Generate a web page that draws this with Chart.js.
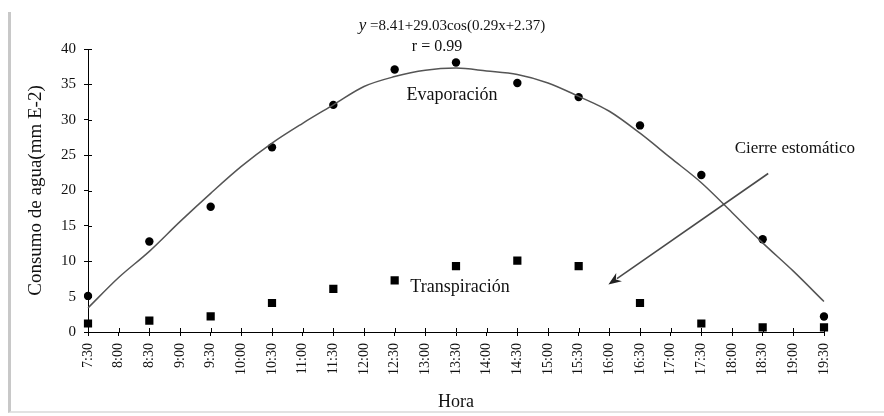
<!DOCTYPE html>
<html>
<head>
<meta charset="utf-8">
<script src="https://cdn.jsdelivr.net/npm/chart.js@4"></script>
<style>
html, body { margin: 0; padding: 0; background: #fff; }
#wrap { position: relative; width: 884px; height: 416px; }
#frame { position: absolute; left: 8px; top: 12px; width: 876px; height: 401px; box-sizing: border-box;
  border-left: 3px solid #c8c8c8; border-bottom: 2px solid #e2e2e2; }
canvas { position: absolute; left: 0; top: 0; }
</style>
</head>
<body>
<div id="wrap"><div id="frame"></div><canvas id="chart" width="884" height="416"></canvas></div>
<script>
// x axis tick labels (half hours)
var halfHours = ["7:30", "8:00", "8:30", "9:00", "9:30", "10:00", "10:30", "11:00", "11:30", "12:00",
  "12:30", "13:00", "13:30", "14:00", "14:30", "15:00", "15:30", "16:00", "16:30", "17:00",
  "17:30", "18:00", "18:30", "19:00", "19:30"];
// hours with measurements
var obsHours = ["7:30", "8:30", "9:30", "10:30", "11:30", "12:30", "13:30", "14:30", "15:30", "16:30", "17:30", "18:30", "19:30"];
var evaporacion = [5.1, 12.8, 17.7, 26.1, 32.1, 37.1, 38.1, 35.2, 33.2, 29.2, 22.2, 13.1, 2.2];
var transpiracion = [1.2, 1.6, 2.2, 4.1, 6.1, 7.3, 9.3, 10.1, 9.3, 4.1, 1.2, 0.65, 0.65];
// fitted curve at each half hour
var ajuste = [3.4, 7.7, 11.4, 15.6, 19.6, 23.4, 26.7, 29.5, 32.1, 34.7, 36.1, 37.0, 37.3, 36.9, 36.4,
  35.2, 33.3, 31.2, 28.1, 24.6, 21.1, 16.9, 12.6, 8.6, 4.3];
var yTicks = [0, 5, 10, 15, 20, 25, 30, 35, 40];

// text notes: [text, x (label index), y (value), font size]
var notes = [
  ["r = 0.99", 11.38, 40.3, 16],
  ["Evaporación", 11.87, 33.4, 18],
  ["Transpiración", 12.13, 6.3, 18],
  ["Cierre estomático", 23.05, 25.9, 17]
];
var eqText = ["y", " =8.41+29.03cos(0.29x+2.37)"];
var eqPos = [11.87, 43.3];
// arrow from -> to (label index, value)
var arrowFrom = [22.18, 22.4];
var arrowTo = [16.97, 6.7];

var serif = "'Liberation Serif', 'Times New Roman', serif";
var ink = "#111";

var notesPlugin = {
  id: "notes",
  afterDatasetsDraw: function (chart) {
    var ctx = chart.ctx, xs = chart.scales.x, ys = chart.scales.y;
    ctx.save();
    // inner half of the cross ticks
    ctx.strokeStyle = "#000";
    ctx.lineWidth = 1;
    ctx.beginPath();
    yTicks.forEach(function (v) {
      var py = Math.round(ys.getPixelForValue(v)) + 0.5;
      ctx.moveTo(xs.left, py); ctx.lineTo(xs.left + 4, py);
    });
    halfHours.forEach(function (h, i) {
      var px = Math.round(xs.getPixelForValue(i)) + 0.5;
      ctx.moveTo(px, ys.bottom); ctx.lineTo(px, ys.bottom - 4);
    });
    ctx.stroke();

    ctx.fillStyle = ink;
    ctx.textBaseline = "middle";
    ctx.textAlign = "center";
    notes.forEach(function (n) {
      ctx.font = n[3] + "px " + serif;
      ctx.fillText(n[0], xs.getPixelForValue(n[1]), ys.getPixelForValue(n[2]));
    });
    // equation with italic y
    ctx.textAlign = "left";
    var f1 = "italic 17px " + serif, f2 = "15px " + serif;
    ctx.font = f1; var w1 = ctx.measureText(eqText[0]).width;
    ctx.font = f2; var w2 = ctx.measureText(eqText[1]).width;
    var ex = xs.getPixelForValue(eqPos[0]) - (w1 + w2) / 2, ey = ys.getPixelForValue(eqPos[1]);
    ctx.font = f1; ctx.fillText(eqText[0], ex, ey);
    ctx.font = f2; ctx.fillText(eqText[1], ex + w1, ey);

    // arrow
    var x1 = xs.getPixelForValue(arrowFrom[0]), y1 = ys.getPixelForValue(arrowFrom[1]);
    var x2 = xs.getPixelForValue(arrowTo[0]), y2 = ys.getPixelForValue(arrowTo[1]);
    var ang = Math.atan2(y2 - y1, x2 - x1), L = 13, W = 5;
    ctx.strokeStyle = "#4a4a4a";
    ctx.lineWidth = 1.6;
    ctx.beginPath();
    ctx.moveTo(x1, y1);
    ctx.lineTo(x2 - Math.cos(ang) * L * 0.8, y2 - Math.sin(ang) * L * 0.8);
    ctx.stroke();
    ctx.fillStyle = "#222";
    ctx.beginPath();
    ctx.moveTo(x2, y2);
    ctx.lineTo(x2 - Math.cos(ang) * L - Math.sin(ang) * W, y2 - Math.sin(ang) * L + Math.cos(ang) * W);
    ctx.lineTo(x2 - Math.cos(ang) * L * 0.7, y2 - Math.sin(ang) * L * 0.7);
    ctx.lineTo(x2 - Math.cos(ang) * L + Math.sin(ang) * W, y2 - Math.sin(ang) * L - Math.cos(ang) * W);
    ctx.closePath();
    ctx.fill();
    ctx.restore();
  }
};

var ctx = document.getElementById("chart");
var myChart = new Chart(ctx, {
  type: "line",
  data: {
    labels: halfHours,
    datasets: [
      {
        label: "Ajuste",
        data: ajuste,
        borderColor: "#555",
        borderWidth: 1.5,
        pointRadius: 0,
        cubicInterpolationMode: "monotone",
        fill: false
      },
      {
        label: "Evaporación",
        data: obsHours.map(function (h, i) { return { x: h, y: evaporacion[i] }; }),
        showLine: false,
        pointStyle: "circle",
        pointRadius: 4.2,
        backgroundColor: "#000",
        borderColor: "#000",
        borderWidth: 0
      },
      {
        label: "Transpiración",
        data: obsHours.map(function (h, i) { return { x: h, y: transpiracion[i] }; }),
        showLine: false,
        pointStyle: "rect",
        pointRadius: 5.8,
        backgroundColor: "#000",
        borderColor: "#000",
        borderWidth: 0
      }
    ]
  },
  options: {
    responsive: false,
    animation: false,
    devicePixelRatio: 1,
    layout: { padding: { left: 21, top: 49, right: 60, bottom: 0 } },
    plugins: { legend: { display: false }, tooltip: { enabled: false } },
    scales: {
      x: {
        type: "category",
        offset: false,
        grid: { drawOnChartArea: false, drawTicks: true, tickLength: 4, color: "#000" },
        border: { display: true, color: "#000", width: 1 },
        ticks: {
          autoSkip: false, maxRotation: 90, minRotation: 90, padding: 7,
          color: ink, font: { family: serif, size: 14 }
        },
        title: { display: true, text: "Hora", color: ink, font: { family: serif, size: 18 }, padding: { top: 2, bottom: 3 } },
        afterFit: function (s) { s.height = 84; }
      },
      y: {
        min: 0,
        max: 40,
        grid: { drawOnChartArea: false, drawTicks: true, tickLength: 4, color: "#000" },
        border: { display: true, color: "#000", width: 1 },
        ticks: { stepSize: 5, padding: 8, color: ink, font: { family: serif, size: 15 } },
        title: { display: true, text: "Consumo de agua(mm E-2)", color: ink, font: { family: serif, size: 19 }, padding: { top: 4, bottom: 4 } },
        afterFit: function (s) { s.width = 67; }
      }
    }
  },
  plugins: [notesPlugin]
});
</script>
</body>
</html>
